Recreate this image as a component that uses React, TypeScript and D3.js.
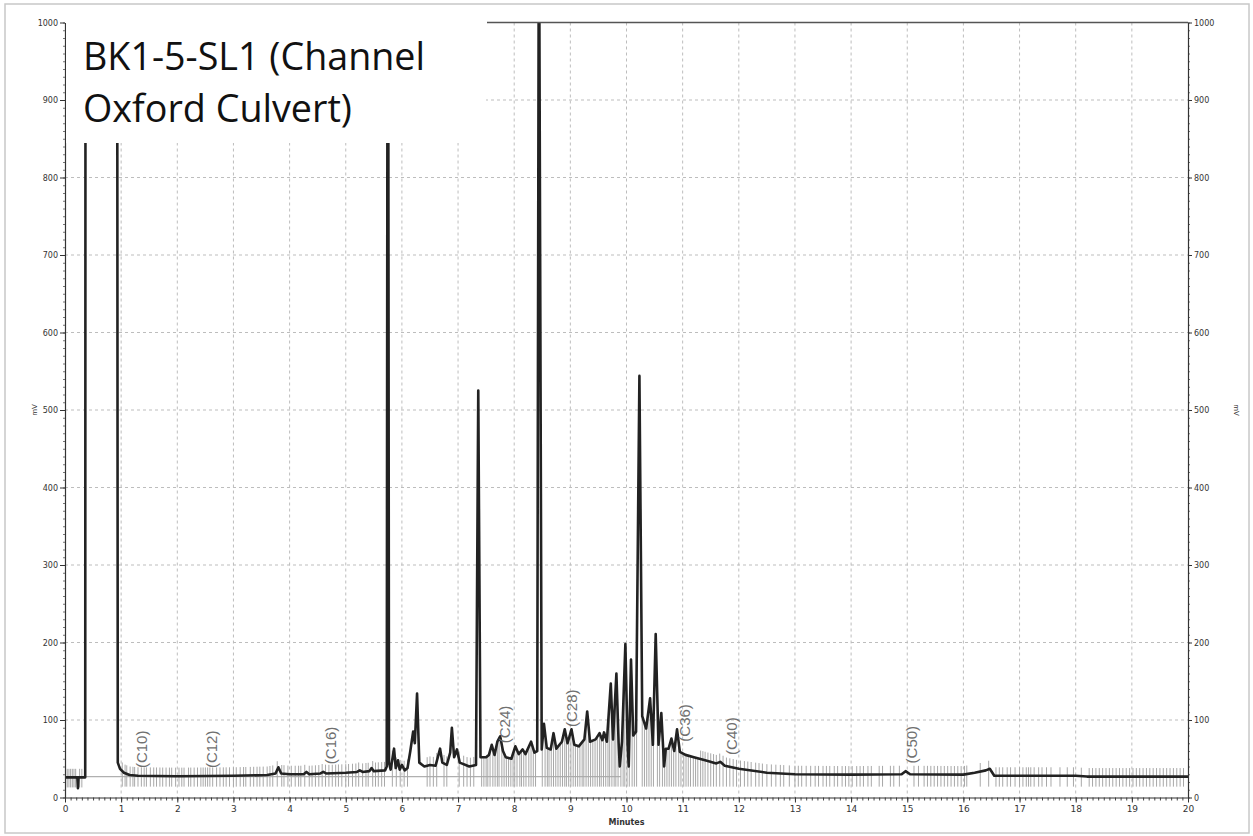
import React, { useRef, useEffect } from "react";
import * as d3 from "d3";

// chromatogram trace, minutes vs mV (off-scale peaks given as > 1000)
const traceTimes = [
  0.0, 0.2, 0.22, 0.23, 0.24, 0.36, 0.37, 0.92, 0.94, 0.98, 1.05, 1.15, 1.3, 2.0, 3.0, 3.6,
  3.75, 3.8, 3.85, 4.0, 4.25, 4.3, 4.35, 4.55, 4.6, 4.65, 5.0, 5.2, 5.25, 5.3, 5.42, 5.46,
  5.5, 5.7, 5.73, 5.75, 5.77, 5.8, 5.86, 5.89, 5.93, 5.96, 6.0, 6.05, 6.1, 6.15, 6.2, 6.23,
  6.27, 6.31, 6.4, 6.5, 6.6, 6.68, 6.72, 6.8, 6.86, 6.89, 6.93, 6.98, 7.03, 7.2, 7.32, 7.36,
  7.4, 7.5, 7.55, 7.6, 7.65, 7.7, 7.75, 7.8, 7.85, 7.95, 8.02, 8.08, 8.15, 8.2, 8.3, 8.36,
  8.41, 8.44, 8.49, 8.53, 8.58, 8.65, 8.7, 8.75, 8.85, 8.9, 8.95, 9.02, 9.07, 9.15, 9.25, 9.3,
  9.35, 9.45, 9.52, 9.57, 9.6, 9.65, 9.72, 9.76, 9.82, 9.86, 9.88, 9.92, 9.98, 10.02, 10.04, 10.08,
  10.12, 10.17, 10.23, 10.28, 10.35, 10.42, 10.47, 10.52, 10.57, 10.62, 10.67, 10.7, 10.75, 10.8, 10.85, 10.9,
  10.95, 11.05, 11.2, 11.4, 11.6, 11.67, 11.75, 12.0, 12.5, 13.0, 14.0, 14.9, 14.97, 15.05, 16.0, 16.2,
  16.4, 16.47, 16.55, 17.0, 18.0, 18.2, 20.0,
];
const traceMv = [
  26, 26, 26, 12, 26, 26, 2000, 2000, 45, 37, 32, 29, 28, 27.5, 28, 29,
  31, 39, 31, 30, 30, 33, 30, 31, 33, 31, 32, 33, 35, 33, 34, 38,
  34, 35, 40, 1500, 45, 36, 63, 38, 48, 36, 42, 35, 38, 60, 85, 70,
  134, 45, 40, 42, 41, 63, 45, 42, 58, 90, 52, 62, 45, 40, 42, 525,
  52, 52, 55, 68, 55, 72, 79, 60, 52, 50, 66, 56, 62, 56, 72, 58,
  60, 1200, 62, 95, 64, 62, 83, 63, 72, 88, 70, 88, 68, 66, 75, 111,
  72, 75, 83, 74, 84, 72, 147, 75, 160, 70, 40, 72, 198, 68, 40, 178,
  80, 85, 544, 105, 89, 128, 68, 211, 68, 109, 40, 63, 63, 76, 60, 88,
  59, 55, 52, 48, 44, 46, 41, 37, 32, 30, 29.5, 30, 34, 30, 29.5, 32,
  35, 37, 28, 28, 28, 27, 27,
];

// integration event marks (grey ticks along the trace)
const markTimes = [
  0.04, 0.07, 0.1, 0.13, 0.16, 0.19, 0.26, 0.3,
  1.02, 1.07, 1.1, 1.16, 1.21, 1.24, 1.3, 1.36, 1.41, 1.45, 1.52, 1.58, 1.63, 1.69, 1.74, 1.8, 1.86, 1.9,
  1.97, 2.03, 2.08, 2.12, 2.2, 2.24, 2.3, 2.36, 2.42, 2.46, 2.5, 2.54, 2.58, 2.63, 2.7, 2.76, 2.82, 2.87,
  2.93, 3.0, 3.05, 3.12, 3.18, 3.22, 3.3, 3.36, 3.42, 3.47, 3.53, 3.6, 3.65, 3.7, 3.78, 3.86, 3.9, 3.97,
  4.03, 4.1, 4.16, 4.2, 4.27, 4.35, 4.4, 4.46, 4.52, 4.58, 4.64, 4.7, 4.76, 4.82, 4.87, 4.93, 5.0, 5.05,
  5.12, 5.18, 5.23, 5.3, 5.36, 5.4, 5.48, 5.53, 5.58, 5.64, 5.69,
  5.83, 5.9, 5.97, 6.04, 6.1, 6.45, 6.5, 6.56, 6.62, 6.75, 6.8, 7.02, 7.1, 7.16, 7.22, 7.28,
  7.42, 7.46, 7.5, 7.53, 7.57, 7.62, 7.66, 7.7, 7.73, 7.78, 7.82, 7.86, 7.9, 7.94, 7.98, 8.01, 8.05, 8.1,
  8.13, 8.17, 8.21, 8.26, 8.3, 8.34, 8.38, 8.5, 8.55, 8.59, 8.62, 8.66, 8.7, 8.74, 8.78, 8.82, 8.86, 8.9,
  8.93, 8.97, 9.01, 9.05, 9.09, 9.13, 9.17, 9.21, 9.24, 9.28, 9.32, 9.36, 9.4, 9.44, 9.48, 9.52, 9.55, 9.59,
  9.63, 9.67, 9.7, 9.74, 9.78, 9.81, 9.85, 9.9, 9.94, 9.97, 10.01, 10.05, 10.1, 10.14, 10.18, 10.28, 10.32,
  10.36, 10.4, 10.44, 10.48, 10.55, 10.59, 10.64, 10.68, 10.72, 10.76, 10.8, 10.84, 10.88, 10.93, 10.97,
  11.02, 11.06, 11.1, 11.14, 11.19, 11.23, 11.27, 11.32, 11.36, 11.4, 11.45, 11.5, 11.55, 11.6, 11.66,
  11.72, 11.78, 11.84, 11.9, 11.96, 12.03, 12.1, 12.16, 12.22, 12.3, 12.36, 12.42, 12.5, 12.58, 12.66,
  12.74, 12.8, 12.9, 13.0, 13.06, 13.12, 13.2, 13.28, 13.36, 13.42, 13.5,
  13.56, 13.62, 13.7, 13.76, 13.84, 13.9, 13.96, 14.02, 14.1, 14.16, 14.22, 14.3, 14.36, 14.5, 14.56, 14.7,
  14.76, 14.86, 15.12, 15.2, 15.3, 15.36, 15.42, 15.48, 15.54, 15.6, 15.66, 15.72, 15.78, 15.84, 15.9,
  15.96, 16.02, 16.06, 16.3, 16.45, 16.58, 16.64, 16.7, 16.78, 16.84, 16.92, 17.0, 17.06, 17.12, 17.16,
  17.2, 17.26, 17.34, 17.4, 17.48, 17.56, 17.72, 17.85, 17.96, 18.1,
  18.24, 18.3, 18.36, 18.42, 18.48, 18.54, 18.6, 18.66, 18.72, 18.78, 18.84, 18.9, 18.96, 19.02, 19.08,
  19.14, 19.2, 19.26, 19.32, 19.38, 19.44, 19.5, 19.56, 19.62, 19.68, 19.74, 19.8, 19.86, 19.92,
];

// carbon-number markers
const carbonLabels = ["(C10)", "(C12)", "(C16)", "(C24)", "(C28)", "(C36)", "(C40)", "(C50)"];
const carbonTimes = [1.37, 2.62, 4.74, 7.84, 9.03, 11.04, 11.88, 15.08];
const carbonMv = [38, 38, 43, 70, 91, 72, 55, 44];

const minuteTicks = [0, 1, 2, 3, 4, 5, 6, 7, 8, 9, 10, 11, 12, 13, 14, 15, 16, 17, 18, 19, 20];
const mvTicks = [0, 100, 200, 300, 400, 500, 600, 700, 800, 900, 1000];
const titleLines = ["BK1-5-SL1 (Channel", "Oxford Culvert)"];
const baselineMv = 27;
const baselineEnd = 9.9;

export default function App() {
  const svgRef = useRef<SVGSVGElement>(null);

  useEffect(() => {
    const svg = d3.select(svgRef.current);
    svg.selectAll("*").remove();

    const x = d3.scaleLinear().domain([0, 20]).range([65, 1188]);
    const y = d3.scaleLinear().domain([0, 1000]).range([797.5, 22.5]);
    const [x0, x1] = x.range();
    const [yb, yt] = y.range();

    // outer frame
    svg.append("rect")
      .attr("x", 5).attr("y", 4).attr("width", 1244).attr("height", 829)
      .attr("fill", "#fff").attr("stroke", "#c8c8c8").attr("stroke-width", 1.5);

    svg.append("defs").append("clipPath").attr("id", "plot-clip")
      .append("rect").attr("x", x0).attr("y", yt).attr("width", x1 - x0).attr("height", yb - yt);

    // dashed grid
    const grid = svg.append("g").attr("stroke", "#bdbdbd").attr("stroke-dasharray", "3,3");
    grid.selectAll("line.v")
      .data(minuteTicks.filter((d) => d > 0 && d < 20))
      .join("line")
      .attr("x1", (d) => x(d)).attr("x2", (d) => x(d))
      .attr("y1", yt).attr("y2", yb);
    grid.selectAll("line.h")
      .data(mvTicks.filter((d) => d > 0 && d < 1000))
      .join("line")
      .attr("x1", x0).attr("x2", x1)
      .attr("y1", (d) => y(d)).attr("y2", (d) => y(d));

    const plot = svg.append("g").attr("clip-path", "url(#plot-clip)");

    // interpolated trace height at a given time
    const bis = d3.bisector((d: number) => d).left;
    const traceAt = (t: number) => {
      const i = Math.max(1, Math.min(traceTimes.length - 1, bis(traceTimes, t)));
      const ta = traceTimes[i - 1], tb = traceTimes[i];
      const f = (t - ta) / (tb - ta);
      return traceMv[i - 1] + f * (traceMv[i] - traceMv[i - 1]);
    };

    // baseline
    plot.append("line")
      .attr("x1", x(0)).attr("x2", x(baselineEnd))
      .attr("y1", y(baselineMv)).attr("y2", y(baselineMv))
      .attr("stroke", "#b0b0b0").attr("stroke-width", 1.2);

    // event marks
    plot.append("g").selectAll("line")
      .data(markTimes)
      .join("line")
      .attr("x1", (d) => x(d)).attr("x2", (d) => x(d))
      .attr("y1", (d) => y(Math.min(traceAt(d), baselineMv) - 13))
      .attr("y2", (d) => {
        const v = traceAt(d);
        return y(v > 50 ? v : v + 11);
      })
      .attr("stroke", "#a8a8a8").attr("stroke-width", 1);

    // trace
    const pts: [number, number][] = traceTimes.map((t, i) => [t, traceMv[i]]);
    plot.append("path")
      .datum(pts)
      .attr("d", d3.line<[number, number]>().x((d) => x(d[0])).y((d) => y(d[1])))
      .attr("fill", "none").attr("stroke", "#222").attr("stroke-width", 2.6)
      .attr("stroke-linejoin", "round");

    // carbon markers
    svg.append("g").selectAll("text")
      .data(carbonLabels)
      .join("text")
      .attr("transform", (d, i) => `translate(${x(carbonTimes[i]) + 5},${y(carbonMv[i])}) rotate(-90)`)
      .attr("font-family", "Liberation Sans, Arial, sans-serif")
      .attr("font-size", 15)
      .attr("fill", "#707070")
      .text((d) => d);

    // top frame line
    svg.append("line")
      .attr("x1", 487).attr("x2", x1).attr("y1", yt).attr("y2", yt)
      .attr("stroke", "#555").attr("stroke-width", 1.5);

    // axes
    const axisFont = "DejaVu Sans, Verdana, sans-serif";
    const styleAxis = (g: d3.Selection<SVGGElement, unknown, null, undefined>, size: number) => {
      g.select(".domain").attr("stroke", "#333").attr("stroke-width", 1.2);
      g.selectAll(".tick line").attr("stroke", "#333");
      g.selectAll(".tick text").attr("font-family", axisFont).attr("font-size", size).attr("fill", "#333");
    };

    const minorMv = d3.range(0, 1001, 10);
    const minorMin = d3.range(0, 20.01, 0.1);
    const fmt = d3.format("d");

    const left = svg.append("g").attr("transform", `translate(${x0},0)`);
    left.append("g").call(d3.axisLeft(y).tickValues(minorMv).tickSize(2).tickFormat(() => ""))
      .call((g) => g.select(".domain").remove())
      .selectAll(".tick line").attr("stroke", "#777");
    const leftMajor = left.append("g").call(
      d3.axisLeft(y).tickValues(mvTicks).tickSize(5).tickPadding(2).tickSizeOuter(0).tickFormat((d) => fmt(d as number))
    );
    styleAxis(leftMajor, 8);

    const right = svg.append("g").attr("transform", `translate(${x1},0)`);
    right.append("g").call(d3.axisRight(y).tickValues(minorMv).tickSize(2).tickFormat(() => ""))
      .call((g) => g.select(".domain").remove())
      .selectAll(".tick line").attr("stroke", "#777");
    const rightMajor = right.append("g").call(
      d3.axisRight(y).tickValues(mvTicks).tickSize(4).tickPadding(2).tickSizeOuter(0).tickFormat((d) => fmt(d as number))
    );
    styleAxis(rightMajor, 8);

    const bottom = svg.append("g").attr("transform", `translate(0,${yb})`);
    bottom.append("g").call(d3.axisBottom(x).tickValues(minorMin).tickSize(3).tickFormat(() => ""))
      .call((g) => g.select(".domain").remove())
      .selectAll(".tick line").attr("stroke", "#444");
    const bottomMajor = bottom.append("g").call(
      d3.axisBottom(x).tickValues(minuteTicks).tickSize(5).tickPadding(3).tickSizeOuter(0).tickFormat((d) => fmt(d as number))
    );
    styleAxis(bottomMajor, 9);

    svg.append("text")
      .attr("x", (x0 + x1) / 2).attr("y", 825)
      .attr("text-anchor", "middle")
      .attr("font-family", axisFont).attr("font-size", 8).attr("font-weight", "bold")
      .attr("fill", "#333")
      .text("Minutes");

    svg.append("text")
      .attr("transform", `translate(37,410) rotate(-90)`)
      .attr("text-anchor", "middle")
      .attr("font-family", axisFont).attr("font-size", 7).attr("fill", "#333")
      .text("mV");
    svg.append("text")
      .attr("transform", `translate(1234,410) rotate(90)`)
      .attr("text-anchor", "middle")
      .attr("font-family", axisFont).attr("font-size", 7).attr("fill", "#333")
      .text("mV");

    // pasted title box
    svg.append("rect")
      .attr("x", x0 + 1).attr("y", 12).attr("width", 486 - x0 - 1).attr("height", 143 - 12)
      .attr("fill", "#fff");
    svg.append("g").selectAll("text")
      .data(titleLines)
      .join("text")
      .attr("x", 83)
      .attr("y", (d, i) => 70 + i * 52)
      .attr("font-family", "Open Sans, Noto Sans, sans-serif")
      .attr("font-size", 38)
      .attr("fill", "#111")
      .attr("textLength", (d, i) => (i === 0 ? 342 : 269))
      .attr("lengthAdjust", "spacingAndGlyphs")
      .text((d) => d);
  }, []);

  return (
    <svg
      ref={svgRef}
      width={1253}
      height={836}
      style={{ position: "absolute", left: 0, top: 0 }}
    />
  );
}
